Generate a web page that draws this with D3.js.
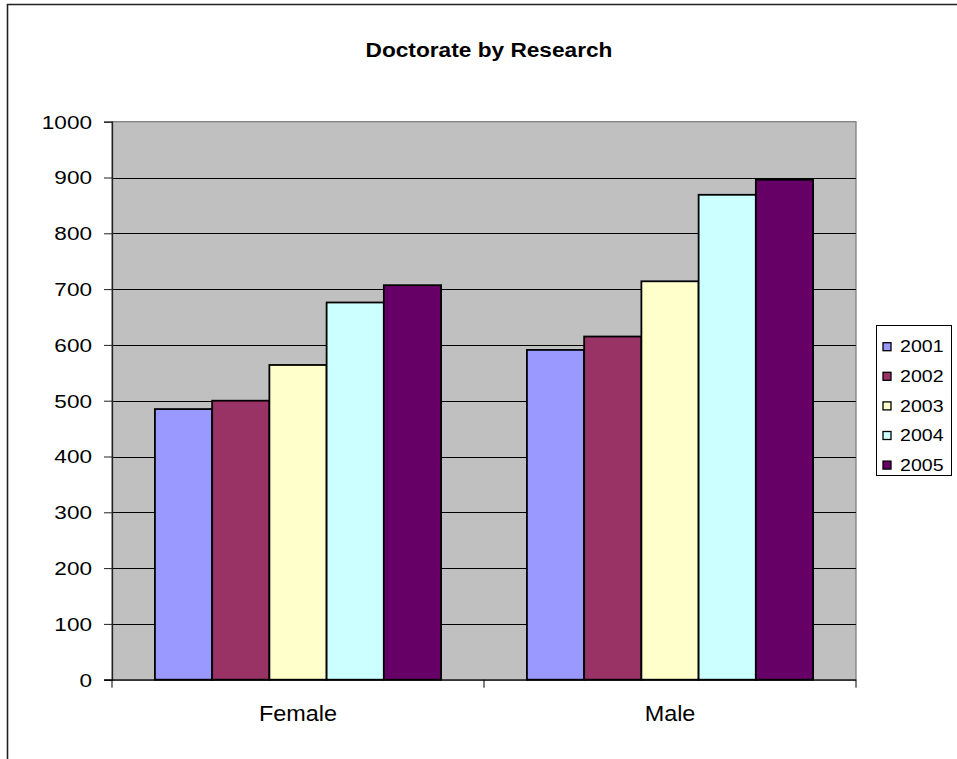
<!DOCTYPE html>
<html>
<head>
<meta charset="utf-8">
<script src="https://cdn.jsdelivr.net/npm/d3@7"></script>
<style>
  html, body { margin: 0; padding: 0; background: #fff; }
  svg { display: block; font-family: "Liberation Sans", Arial, sans-serif; }
</style>
</head>
<body>
<svg id="chart" width="957" height="759"></svg>
<script>
const categories = ["Female", "Male"];
const years = ["2001", "2002", "2003", "2004", "2005"];
const values2001 = [485, 591];
const values2002 = [500, 615];
const values2003 = [564, 714];
const values2004 = [676, 869];
const values2005 = [707, 896];
const yTicks = [0, 100, 200, 300, 400, 500, 600, 700, 800, 900, 1000];
const colors = ["#9999FF", "#993366", "#FFFFCC", "#CCFFFF", "#660066"];
const titleText = "Doctorate by Research";

const series = [values2001, values2002, values2003, values2004, values2005];

const svg = d3.select("#chart");
const plot = { left: 112, right: 856, top: 121.7, bottom: 679.7 };

// outer chart border (extends beyond the picture on right and bottom)
svg.append("path")
  .attr("d", `M7.5,770 V4.5 H970`)
  .attr("fill", "none").attr("stroke", "#222").attr("stroke-width", 1.6);

const x0 = d3.scaleBand().domain(categories).range([plot.left, plot.right]).paddingInner(0).paddingOuter(0);
// gap width 150%: each side padding = 0.75 bar widths
const x1 = d3.scaleBand().domain(years).range([0, x0.bandwidth()]).paddingInner(0).paddingOuter(0.75);
const y = d3.scaleLinear().domain([0, 1000]).range([plot.bottom, plot.top]);

// plot background
svg.append("rect")
  .attr("x", plot.left).attr("y", plot.top)
  .attr("width", plot.right - plot.left).attr("height", plot.bottom - plot.top)
  .attr("fill", "#C0C0C0").attr("stroke", "#808080").attr("stroke-width", 1.3);

// gridlines
svg.append("g").selectAll("line").data(yTicks.filter(t => t > 0 && t < 1000)).join("line")
  .attr("x1", plot.left).attr("x2", plot.right)
  .attr("y1", d => Math.round(y(d)) + 0.5).attr("y2", d => Math.round(y(d)) + 0.5)
  .attr("stroke", "#000").attr("stroke-width", 1);

// bars
const groups = svg.append("g").selectAll("g").data(categories).join("g")
  .attr("transform", c => `translate(${x0(c)},0)`);
groups.selectAll("rect").data((c, ci) => years.map((yr, si) => ({ yr, si, v: series[si][ci] }))).join("rect")
  .attr("x", d => x1(d.yr))
  .attr("y", d => y(d.v))
  .attr("width", x1.bandwidth())
  .attr("height", d => y(0) - y(d.v))
  .attr("fill", d => colors[d.si])
  .attr("stroke", "#000").attr("stroke-width", 1.8);

// y axis
const yAxis = d3.axisLeft(y).tickValues(yTicks).tickSize(8).tickPadding(0).tickFormat(d3.format("d"));
const gy = svg.append("g").attr("transform", `translate(${plot.left},0)`).call(yAxis);
gy.select(".domain").attr("stroke", "#222").attr("stroke-width", 1.3);
gy.selectAll(".tick line").attr("stroke", "#222");
gy.selectAll(".tick text").remove();
gy.selectAll(".tick").append("g")
  .attr("transform", "translate(-20,0) scale(1.22,1)")
  .append("text")
  .attr("text-anchor", "end").attr("dy", "0.35em")
  .attr("font-size", 18.5).attr("fill", "#000")
  .text(d => d);

// x axis
const xAxis = d3.axisBottom(x0).tickSize(0).tickFormat("");
const gx = svg.append("g").attr("transform", `translate(0,${plot.bottom})`).call(xAxis);
gx.select(".domain").remove();
gx.append("line").attr("x1", plot.left - 8).attr("x2", plot.right).attr("y1", 0.5).attr("y2", 0.5)
  .attr("stroke", "#000").attr("stroke-width", 1.2);
gx.selectAll("line.sep").data([plot.left, (plot.left + plot.right) / 2, plot.right]).join("line")
  .attr("class", "sep")
  .attr("x1", d => d).attr("x2", d => d).attr("y1", 0).attr("y2", 8)
  .attr("stroke", "#000").attr("stroke-width", 1);
gx.selectAll(".tick").append("g")
  .attr("transform", "translate(0,41) scale(1.09,1)")
  .append("text").attr("text-anchor", "middle")
  .attr("font-size", 21.5).attr("fill", "#000")
  .text(d => d);

// title
svg.append("g").attr("transform", "translate(489,56.7) scale(1.08,1)")
  .append("text").attr("text-anchor", "middle")
  .attr("font-size", 21).attr("font-weight", "bold").attr("fill", "#000")
  .text(titleText);

// legend
const legend = svg.append("g");
legend.append("rect").attr("x", 876.5).attr("y", 325.5).attr("width", 75).attr("height", 150)
  .attr("fill", "#fff").attr("stroke", "#000").attr("stroke-width", 1);
const items = legend.selectAll("g.item").data(years).join("g").attr("class", "item")
  .attr("transform", (d, i) => `translate(0,${346.7 + i * 29.6})`);
items.append("rect").attr("x", 883).attr("y", -4).attr("width", 8).attr("height", 8)
  .attr("fill", (d, i) => colors[i]).attr("stroke", "#000").attr("stroke-width", 1.3);
items.append("g").attr("transform", "translate(900,0) scale(1.2,1)")
  .append("text").attr("dy", "0.35em").attr("font-size", 16.3).attr("fill", "#000")
  .text(d => d);
</script>
</body>
</html>
